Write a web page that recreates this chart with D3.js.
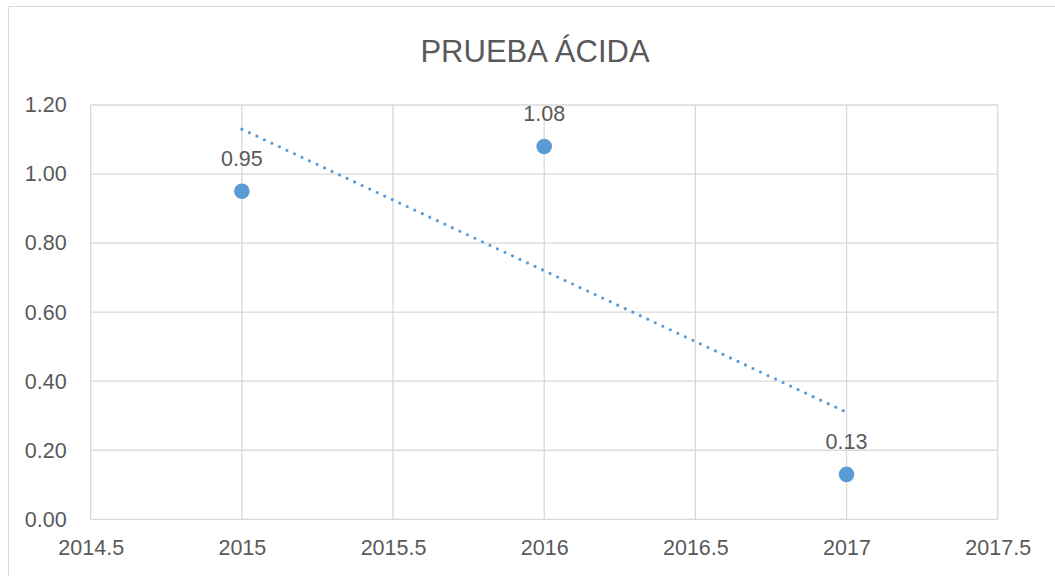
<!DOCTYPE html>
<html>
<head>
<meta charset="utf-8">
<script src="https://cdn.jsdelivr.net/npm/d3@7"></script>
<style>
  html, body { margin: 0; padding: 0; background: #fff; }
  svg { display: block; }
  text { font-family: "Liberation Sans", Arial, sans-serif; fill: #595959; }
</style>
</head>
<body>
<svg id="chart" width="1055" height="576"></svg>
<script>
const title = "PRUEBA ÁCIDA";
const years = [2015, 2016, 2017];
const values = [0.95, 1.08, 0.13];
const xTicks = [2014.5, 2015, 2015.5, 2016, 2016.5, 2017, 2017.5];
const yTicks = [0, 0.2, 0.4, 0.6, 0.8, 1.0, 1.2];

const svg = d3.select("#chart");
const W = 1055, H = 576;

// chart border (extends beyond window at right & bottom)
svg.append("rect")
  .attr("x", 8.5).attr("y", 6.5).attr("width", 2000).attr("height", 2000)
  .attr("fill", "none").attr("stroke", "#d9d9d9").attr("stroke-width", 1);

const x = d3.scaleLinear().domain([2014.5, 2017.5]).range([90.7, 997.7]);
const y = d3.scaleLinear().domain([0, 1.2]).range([519.3, 105]);

// gridlines
const grid = svg.append("g");
grid.selectAll("line.h").data(yTicks).join("line")
  .attr("x1", x(2014.5)).attr("x2", x(2017.5))
  .attr("y1", d => y(d)).attr("y2", d => y(d))
  .attr("stroke", "#d9d9d9").attr("stroke-width", 1.3);
grid.selectAll("line.v").data(xTicks).join("line")
  .attr("y1", y(0)).attr("y2", y(1.2))
  .attr("x1", d => x(d)).attr("x2", d => x(d))
  .attr("stroke", "#d9d9d9").attr("stroke-width", 1.3);

// axes (labels only)
const yAxis = d3.axisLeft(y).tickValues(yTicks).tickFormat(d3.format(".2f")).tickSize(0).tickPadding(24);
const gy = svg.append("g").attr("transform", `translate(${x(2014.5)},0)`).call(yAxis);
gy.select(".domain").remove();
gy.selectAll("text").style("font-size", "21.5px").attr("fill", "#595959")
  .style("font-family", '"Liberation Sans", Arial, sans-serif');

const xAxis = d3.axisBottom(x).tickValues(xTicks).tickFormat(d => String(d)).tickSize(0).tickPadding(20);
const gx = svg.append("g").attr("transform", `translate(0,${y(0)})`).call(xAxis);
gx.select(".domain").remove();
gx.selectAll("text").style("font-size", "21.5px").attr("fill", "#595959")
  .style("font-family", '"Liberation Sans", Arial, sans-serif');

// linear trendline (least squares)
const n = years.length;
const mx = d3.mean(years), my = d3.mean(values);
let sxy = 0, sxx = 0;
years.forEach((xv, i) => { sxy += (xv - mx) * (values[i] - my); sxx += (xv - mx) ** 2; });
const slope = sxy / sxx, intercept = my - slope * mx;
const trendX = [d3.min(years), d3.max(years)];
svg.append("path")
  .datum(trendX)
  .attr("d", d3.line().x(d => x(d)).y(d => y(intercept + slope * d)))
  .attr("fill", "none").attr("stroke", "#5B9BD5")
  .attr("stroke-width", 3.2).attr("stroke-linecap", "round")
  .attr("stroke-dasharray", "0 8.3");

// points
svg.selectAll("circle.pt").data(years).join("circle")
  .attr("cx", d => x(d)).attr("cy", (d, i) => y(values[i]))
  .attr("r", 7.8).attr("fill", "#5B9BD5");

// data labels
svg.selectAll("text.lbl").data(years).join("text")
  .attr("x", d => x(d)).attr("y", (d, i) => y(values[i]) - 32)
  .attr("text-anchor", "middle").attr("dominant-baseline", "central")
  .style("font-size", "21.5px")
  .text((d, i) => values[i].toFixed(2));

// title
svg.append("text")
  .attr("x", 535).attr("y", 51).attr("text-anchor", "middle")
  .attr("dominant-baseline", "central")
  .style("font-size", "31px")
  .text(title);
</script>
</body>
</html>
